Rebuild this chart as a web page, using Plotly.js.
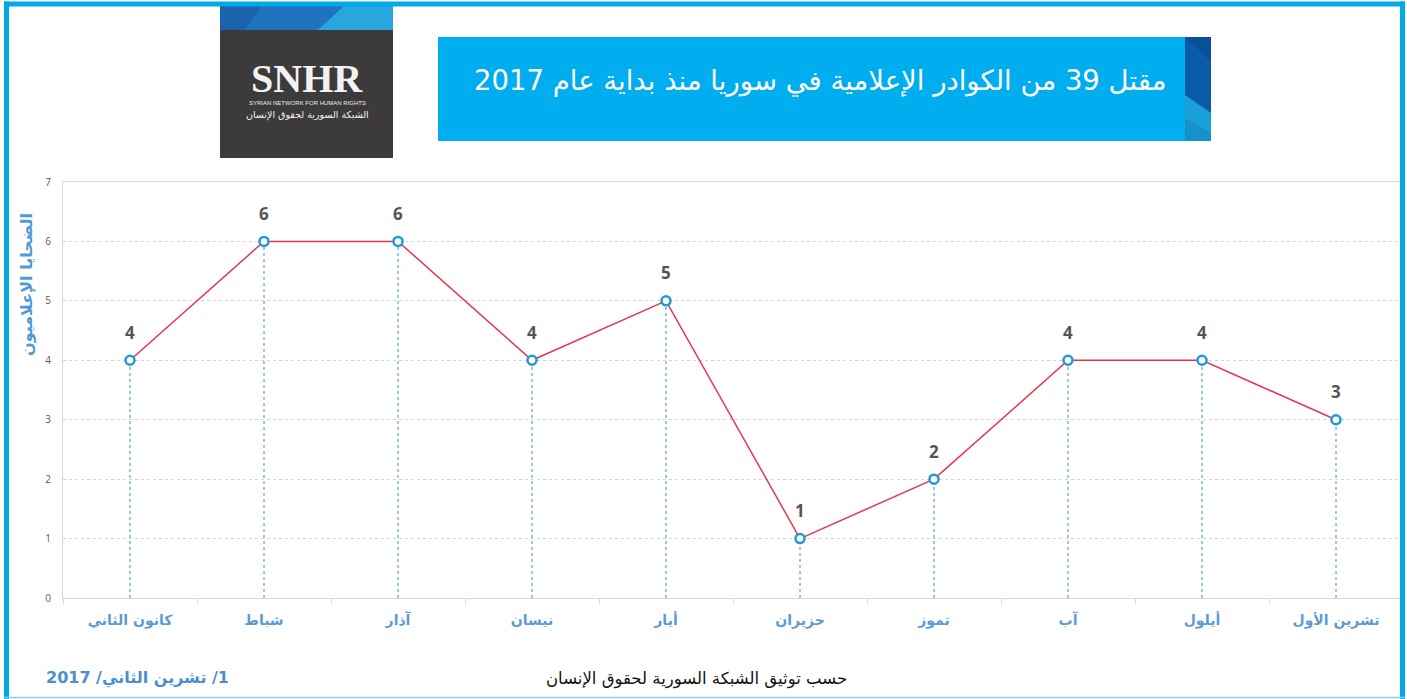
<!DOCTYPE html>
<html>
<head>
<meta charset="utf-8">
<script src="https://cdn.plot.ly/plotly-3.0.1.min.js"></script>
<style>html,body{margin:0;padding:0;background:#fff;}#chart{width:1407px;height:699px;}</style>
</head>
<body>
<div id="chart"></div>
<script>
// ---- data ----
var months = ["كانون الثاني", "شباط", "آذار", "نيسان", "أيار", "حزيران", "تموز", "آب", "أيلول", "تشرين الأول"];
var victims = [4, 6, 6, 4, 5, 1, 2, 4, 4, 3];
var yTicks = [0, 1, 2, 3, 4, 5, 6, 7];
var titleText = "مقتل 39 من الكوادر الإعلامية في سوريا منذ بداية عام 2017";
var yTitle = "الضحايا الإعلاميون";
var sourceText = "حسب توثيق الشبكة السورية لحقوق الإنسان";
var dateText = "\u200F1/ تشرين الثاني/ 2017";
var logoMain = "SNHR";
var logoEn = "SYRIAN NETWORK FOR HUMAN RIGHTS";
var logoAr = "الشبكة السورية لحقوق الإنسان";

// ---- layout helpers (pixel -> paper) ----
var W = 1407, H = 699, L = 63, R = 1403, T = 182, B = 598;
function px(x) { return (x - L) / (R - L); }
function py(y) { return (B - y) / (B - T); }
function rect(x0, y0, x1, y1, fill) {
  return {type: 'rect', xref: 'paper', yref: 'paper', x0: px(x0), x1: px(x1), y0: py(y1), y1: py(y0),
          fillcolor: fill, line: {width: 0}, layer: 'above'};
}
function poly(pts, fill) {
  var d = pts.map(function (p, i) { return (i ? 'L' : 'M') + px(p[0]) + ',' + py(p[1]); }).join(' ') + ' Z';
  return {type: 'path', xref: 'paper', yref: 'paper', path: d, fillcolor: fill, line: {width: 0}, layer: 'above'};
}

var idx = months.map(function (m, i) { return i; });

// drop lines
var dropX = [], dropY = [];
idx.forEach(function (i) { dropX.push(months[i], months[i], null); dropY.push(0, victims[i], null); });

var traces = [
  {x: dropX, y: dropY, type: 'scatter', mode: 'lines', hoverinfo: 'skip', cliponaxis: false,
   line: {color: '#3d8fd1', width: 1, dash: 'dot'}},
  {x: months, y: victims, type: 'scatter', mode: 'lines+markers', cliponaxis: false,
   line: {color: '#e8354f', width: 1.5},
   marker: {symbol: 'circle', size: 9, color: '#ffffff', line: {color: '#1e9ad8', width: 2.5}}}
];

var annotations = idx.map(function (i) {
  return {x: months[i], y: victims[i], xref: 'x', yref: 'y', text: String(victims[i]), showarrow: false,
          yshift: 28, font: {family: 'Open Sans, DejaVu Sans, sans-serif', size: 17, color: '#555555', weight: 'bold'}};
});

annotations.push(
  {xref: 'paper', yref: 'paper', x: px(1168), y: py(80), xanchor: 'right', yanchor: 'middle', showarrow: false,
   text: titleText, font: {family: 'DejaVu Sans, sans-serif', size: 27.5, color: '#ffffff'}},
  {xref: 'paper', yref: 'paper', x: px(26), y: py(285), xanchor: 'center', yanchor: 'middle', showarrow: false,
   textangle: -90, text: yTitle, font: {family: 'DejaVu Sans, sans-serif', size: 16, color: '#4f9ad6', weight: 'bold'}},
  {xref: 'paper', yref: 'paper', x: px(696), y: py(679), xanchor: 'center', yanchor: 'middle', showarrow: false,
   text: sourceText, font: {family: 'DejaVu Sans, sans-serif', size: 16.5, color: '#111111'}},
  {xref: 'paper', yref: 'paper', x: px(44), y: py(678), xanchor: 'left', yanchor: 'middle', showarrow: false,
   text: dateText, font: {family: 'DejaVu Sans, sans-serif', size: 16, color: '#4a8fd0', weight: 'bold'}},
  {xref: 'paper', yref: 'paper', x: px(307), y: py(78), xanchor: 'center', yanchor: 'middle', showarrow: false,
   text: logoMain, font: {family: 'Liberation Serif, serif', size: 40, color: '#f2f2f2', weight: 'bold'}},
  {xref: 'paper', yref: 'paper', x: px(307), y: py(103), xanchor: 'center', yanchor: 'middle', showarrow: false,
   text: logoEn, font: {family: 'Liberation Sans Narrow, Liberation Sans, sans-serif', size: 6, color: '#eeeeee'}},
  {xref: 'paper', yref: 'paper', x: px(307), y: py(115), xanchor: 'center', yanchor: 'middle', showarrow: false,
   text: logoAr, font: {family: 'DejaVu Sans, sans-serif', size: 9.5, color: '#f2f2f2'}}
);

var shapes = [
  // title box
  rect(438, 37, 1211, 141, '#00adee'),
  rect(1185, 37, 1211, 141, '#1aa0d9'),
  poly([[1185, 37], [1211, 37], [1211, 113], [1185, 95]], '#0b5aa8'),
  poly([[1185, 37], [1211, 37], [1211, 62]], '#0a519c'),
  poly([[1185, 118], [1211, 133], [1211, 141], [1185, 141]], '#1592c9'),
  // logo
  rect(220, 5, 393, 158, '#3c3a3b'),
  rect(220, 5, 393, 30, '#1f74bd'),
  poly([[220, 5], [262, 5], [245, 30], [220, 30]], '#1b64ad'),
  poly([[318, 30], [345, 5], [393, 5], [393, 30]], '#2aa6de'),
  // frame
  {type: 'line', xref: 'paper', yref: 'paper', x0: px(4), x1: px(1405), y0: py(4), y1: py(4), line: {color: '#00a9e8', width: 5}, layer: 'above'},
  {type: 'line', xref: 'paper', yref: 'paper', x0: px(6.5), x1: px(6.5), y0: py(1.5), y1: py(699), line: {color: '#00a9e8', width: 5}, layer: 'above'},
  {type: 'line', xref: 'paper', yref: 'paper', x0: px(1402.5), x1: px(1402.5), y0: py(1.5), y1: py(699), line: {color: '#00a9e8', width: 5}, layer: 'above'},
  {type: 'line', xref: 'paper', yref: 'paper', x0: px(4), x1: px(1405), y0: py(697.5), y1: py(697.5), line: {color: '#7fd2f2', width: 1.5}, layer: 'above'}
];

var layout = {
  width: W, height: H,
  margin: {l: L, r: W - R, t: T, b: H - B, pad: 0},
  paper_bgcolor: '#ffffff', plot_bgcolor: '#ffffff',
  showlegend: false,
  xaxis: {
    type: 'category', categoryorder: 'array', categoryarray: months, range: [-0.5, months.length - 0.5],
    showgrid: false, zeroline: false, showline: true, mirror: true, linecolor: '#d9d9d9', linewidth: 1,
    tickson: 'boundaries', ticks: 'outside', ticklen: 5, tickcolor: '#d9d9d9', ticklabelstandoff: 9,
    tickfont: {family: 'DejaVu Sans, sans-serif', size: 14, color: '#5b9bd5', weight: 'bold'}
  },
  yaxis: {
    range: [0, 7], tickvals: yTicks, ticktext: yTicks.map(String), zeroline: false,
    showgrid: true, gridcolor: '#d4d4d4', griddash: 'dot', gridwidth: 1,
    showline: true, linecolor: '#d9d9d9', linewidth: 1,
    ticks: 'outside', ticklen: 9, tickcolor: 'rgba(0,0,0,0)',
    tickfont: {family: 'Open Sans, sans-serif', size: 10, color: '#595959'}
  },
  shapes: shapes,
  annotations: annotations
};

Plotly.newPlot('chart', traces, layout, {displayModeBar: false, staticPlot: true});
</script>
</body>
</html>
